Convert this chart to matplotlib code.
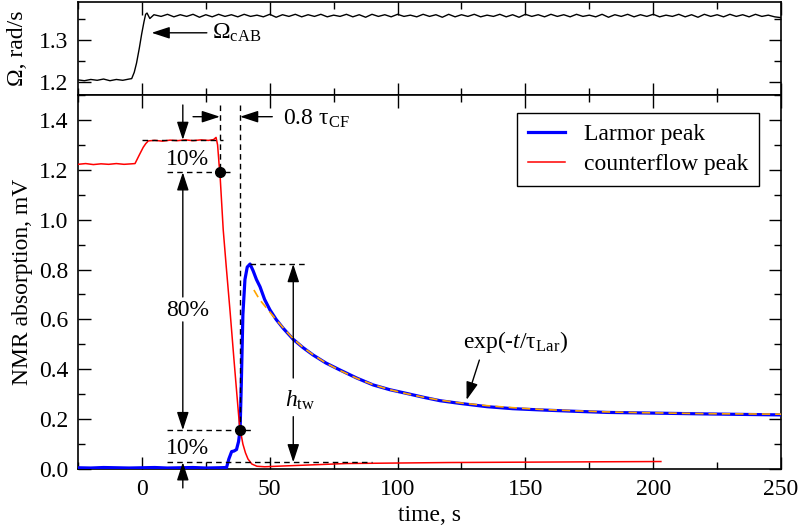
import matplotlib
matplotlib.use('Agg')
import matplotlib.pyplot as plt
import numpy as np
from matplotlib.ticker import MultipleLocator

plt.rcParams['font.family'] = ['Liberation Serif', 'DejaVu Serif']
plt.rcParams['mathtext.fontset'] = 'custom'
plt.rcParams['mathtext.rm'] = 'Liberation Serif'
plt.rcParams['mathtext.it'] = 'Liberation Serif:italic'
plt.rcParams['font.size'] = 17

# --- top panel: rotation velocity Omega ---
om_t_start = [-25, -22.5, -20, -17.5, -15, -12.5, -10, -7.5, -5,
              -4, -3, -2.1, -1, -0.1, 0.8, 1.45, 2, 3.1, 4.7]
om_v_start = [1.204, 1.202, 1.205, 1.203, 1.206, 1.202, 1.205, 1.203, 1.206,
              1.207, 1.222, 1.244, 1.28, 1.313, 1.342, 1.36, 1.363, 1.350, 1.359]
om_t_plateau = np.arange(7.5, 250.1, 2.5)
om_v_plateau = [
    1.355, 1.360, 1.354, 1.359, 1.355, 1.360, 1.353, 1.359, 1.354, 1.360,
    1.355, 1.359, 1.354, 1.360, 1.355, 1.358, 1.354, 1.360, 1.353, 1.359,
    1.355, 1.360, 1.354, 1.359, 1.355, 1.360, 1.354, 1.358, 1.355, 1.360,
    1.354, 1.359, 1.353, 1.360, 1.355, 1.359, 1.354, 1.360, 1.355, 1.358,
    1.354, 1.360, 1.355, 1.359, 1.353, 1.360, 1.354, 1.359, 1.355, 1.360,
    1.354, 1.358, 1.355, 1.360, 1.354, 1.359, 1.353, 1.360, 1.355, 1.359,
    1.354, 1.360, 1.355, 1.359, 1.354, 1.360, 1.355, 1.358, 1.354, 1.360,
    1.353, 1.359, 1.355, 1.360, 1.354, 1.359, 1.355, 1.360, 1.354, 1.358,
    1.355, 1.360, 1.354, 1.359, 1.353, 1.360, 1.355, 1.359, 1.354, 1.360,
    1.355, 1.359, 1.354, 1.360, 1.355, 1.358, 1.354, 1.352]
om_t = list(om_t_start) + list(om_t_plateau)
om_v = om_v_start + om_v_plateau

# --- bottom panel: NMR absorption ---
cf_t = [-25, -22, -19, -16, -13, -10, -7, -4, -2.7, -1, 0.5, 1.5, 2.5,
        5, 8, 11, 14, 17, 20, 23, 26, 28, 29, 29.6, 30.2, 30.5, 31.8, 33,
        34.5, 36, 37.3, 38.1, 38.6, 39.5, 40.5, 41.5, 43, 45, 48, 55, 65,
        80, 100, 120, 140, 160, 180, 203]
cf_v = [1.222, 1.225, 1.221, 1.224, 1.222, 1.225, 1.222, 1.224, 1.225,
        1.26, 1.29, 1.305, 1.316, 1.318, 1.315, 1.319, 1.317, 1.320, 1.317,
        1.320, 1.318, 1.321, 1.330, 1.30, 1.22, 1.19, 0.96, 0.81, 0.63,
        0.44, 0.28, 0.183, 0.15, 0.10, 0.065, 0.04, 0.02, 0.011, 0.009,
        0.012, 0.016, 0.022, 0.024, 0.026, 0.027, 0.028, 0.029, 0.030]

lar_t = [-25, -20, -15, -10, -5, 0, 5, 10, 15, 20, 25, 30, 33.1, 34, 35.1,
         36, 37, 37.8, 38.4, 38.9, 39.5, 40.3, 41.2, 42.3, 43.5, 44.8, 46.2,
         48, 50.1, 52.5, 55.3, 59.2, 63, 67, 72, 77.5, 84, 90.5, 97, 103.6,
         110, 116.6, 124.5, 135, 145, 155.8, 168, 181.9, 195, 207.8, 220,
         235, 250]
lar_v = [0.005, 0.004, 0.006, 0.005, 0.004, 0.005, 0.006, 0.004, 0.005,
         0.006, 0.004, 0.005, 0.006, 0.04, 0.07, 0.072, 0.078, 0.11, 0.156,
         0.35, 0.62, 0.76, 0.81, 0.822, 0.795, 0.76, 0.731, 0.68, 0.638,
         0.60, 0.564, 0.520, 0.487, 0.457, 0.425, 0.397, 0.365, 0.337, 0.318,
         0.303, 0.288, 0.274, 0.263, 0.250, 0.242, 0.237, 0.232, 0.227,
         0.225, 0.223, 0.221, 0.219, 0.217]

fit_t = [43.8, 46, 48.8, 52, 55.3, 59.2, 63, 67, 72, 77.5, 84, 90.5, 97,
         103.6, 110, 116.6, 124.5, 135, 145, 155.8, 168, 181.9, 195, 207.8,
         220, 235, 250]
fit_v = [0.718, 0.68, 0.645, 0.605, 0.566, 0.522, 0.488, 0.458, 0.425,
         0.395, 0.364, 0.338, 0.318, 0.302, 0.288, 0.276, 0.265, 0.254,
         0.246, 0.239, 0.234, 0.229, 0.226, 0.224, 0.222, 0.221, 0.220]

# characteristic points (10% / 90% levels, peak)
t_90, v_90 = 30.5, 1.19
t_10, v_10 = 38.4, 0.156
v_top, v_base, v_peak = 1.32, 0.027, 0.822
t_peak = 42.3

fig = plt.figure(figsize=(8, 5.29), dpi=100)
ax1 = fig.add_axes([0.0975, 0.8204, 0.8788, 0.1756])
ax2 = fig.add_axes([0.0975, 0.1134, 0.8788, 0.707], sharex=ax1)

for ax in (ax1, ax2):
    ax.tick_params(which='both', direction='in', top=True, right=True, width=1.0)
    ax.tick_params(which='major', length=9, pad=7)
    ax.tick_params(which='minor', length=5)
    for s in ax.spines.values():
        s.set_linewidth(1.2)

ax1.plot(om_t, om_v, color='black', lw=1.0)
ax1.set_xlim(-25, 250)
ax1.set_ylim(1.168, 1.389)
ax1.yaxis.set_major_locator(MultipleLocator(0.1))
ax1.yaxis.set_minor_locator(MultipleLocator(0.05))
ax1.xaxis.set_major_locator(MultipleLocator(50))
ax1.xaxis.set_minor_locator(MultipleLocator(25))
ax1.tick_params(labelbottom=False)
ax1.set_ylabel('Ω, rad/s', labelpad=8)

arr = dict(arrowstyle='-|>,head_length=0.55,head_width=0.18', mutation_scale=20,
           color='black', lw=1.0, shrinkA=0, shrinkB=0)

ax1.annotate('', xy=(3.8, 1.316), xytext=(25.4, 1.316), arrowprops=arr)
ax1.text(27.3, 1.303, r'$\Omega_{\rm cAB}$', ha='left', va='baseline')

ax2.plot(lar_t, lar_v, color='#0000ff', lw=2.3, label='Larmor peak', zorder=3)
ax2.plot(cf_t, cf_v, color='#ff0000', lw=1.1, label='counterflow peak', zorder=4)
ax2.plot(fit_t, fit_v, color='orange', lw=1.2, ls=(0, (5, 3)), zorder=5)

ax2.set_xlim(-25, 250)
ax2.set_ylim(0, 1.5)
ax2.yaxis.set_major_locator(MultipleLocator(0.2))
ax2.yaxis.set_minor_locator(MultipleLocator(0.1))
ax2.yaxis.set_major_formatter(matplotlib.ticker.FormatStrFormatter('%.1f'))
ax2.set_xlabel('time, s', labelpad=4)
ax2.set_ylabel('NMR absorption, mV', labelpad=4)

dash = dict(color='black', lw=1.0, ls=(0, (4, 3)), zorder=6)
ax2.plot([0, 31.7], [v_top, v_top], **dash)
ax2.plot([10, 34.4], [v_90, v_90], **dash)
ax2.plot([9.8, 43.4], [v_10, v_10], **dash)
ax2.plot([9.8, 90], [v_base, v_base], **dash)
ax2.plot([t_peak, 64.6], [v_peak, v_peak], **dash)
ax2.plot([t_90, t_90], [1.46, v_90], **dash)
ax2.plot([t_10, t_10], [1.46, v_10], **dash)
ax2.plot([t_90, t_10], [v_90, v_10], 'o', color='black', ms=7, zorder=7)

ax2.annotate('', xy=(16, v_top), xytext=(16, 1.46), arrowprops=arr)
ax2.annotate('', xy=(16, v_90), xytext=(16, 0.69), arrowprops=arr)
ax2.annotate('', xy=(16, v_10), xytext=(16, 0.59), arrowprops=arr)
ax2.annotate('', xy=(16, v_base), xytext=(16, -0.076), arrowprops=arr,
             annotation_clip=False)
ax2.text(18, 1.219, '10%', ha='center', va='baseline')
ax2.text(18, 0.614, '80%', ha='center', va='baseline')
ax2.text(18, 0.060, '10%', ha='center', va='baseline')

ax2.annotate('', xy=(t_90, 1.413), xytext=(20, 1.413), arrowprops=arr)
ax2.annotate('', xy=(t_10, 1.413), xytext=(51, 1.413), arrowprops=arr)
ax2.text(55.2, 1.380, r'0.8 $\mathrm{\tau}_{\rm CF}$', ha='left', va='baseline')

ax2.annotate('', xy=(59.2, v_peak), xytext=(59.2, 0.365), arrowprops=arr)
ax2.annotate('', xy=(59.2, v_base), xytext=(59.2, 0.21), arrowprops=arr)
ax2.text(56, 0.25, r'$h_{\rm tw}$', ha='left', va='baseline')

ax2.annotate('', xy=(127, 0.277), xytext=(132, 0.437), arrowprops=arr)
ax2.text(125.6, 0.487, r'exp(-$t$/$\mathrm{\tau}_{\rm Lar}$)', ha='left', va='baseline')

leg = ax2.legend(loc='upper right', bbox_to_anchor=(0.969, 0.952), borderaxespad=0,
                 fancybox=False, edgecolor='black', framealpha=1,
                 handlelength=1.6, handletextpad=0.8, borderpad=0.45,
                 labelspacing=0.35)
leg.get_frame().set_linewidth(1.0)

fig.savefig('out.png', dpi=100)
